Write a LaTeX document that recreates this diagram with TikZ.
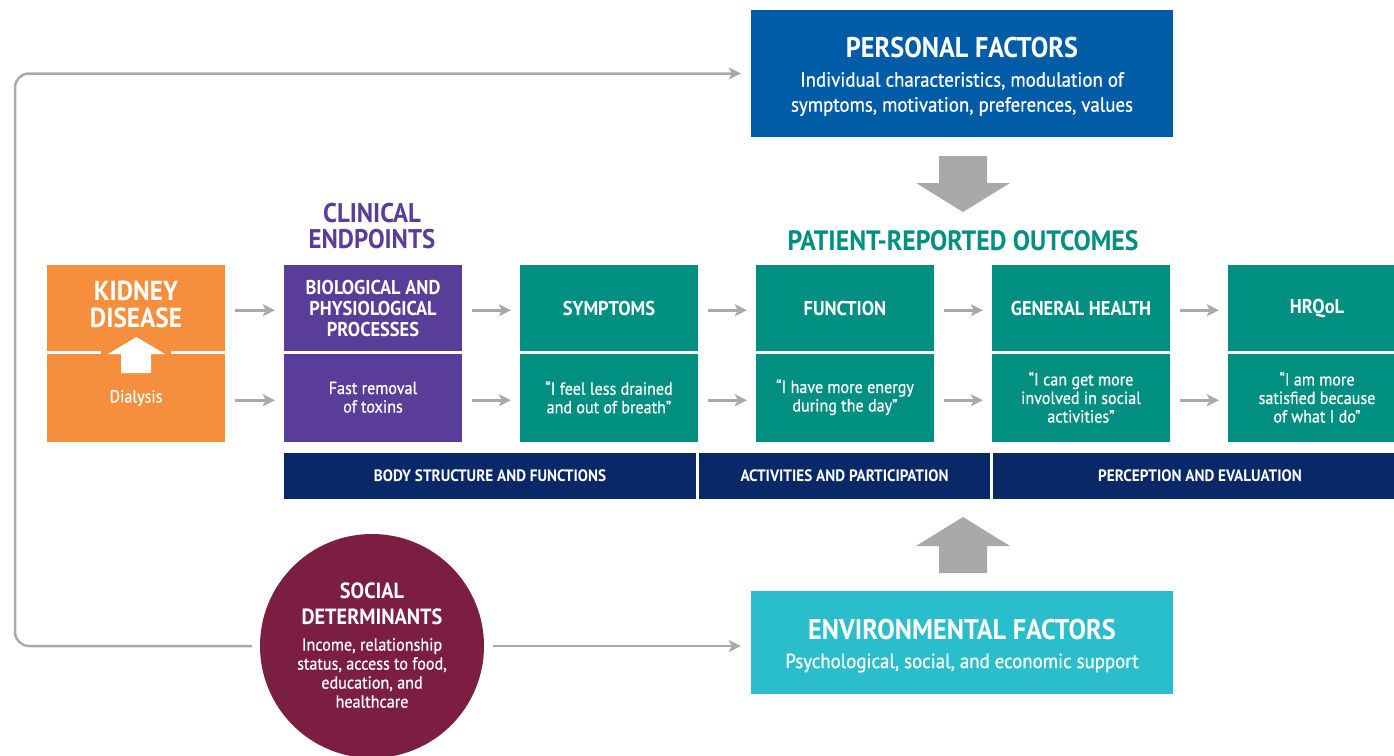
\documentclass[tikz,border=0pt]{standalone}
\usepackage{fontspec}
\setmainfont{PT Sans}[FakeStretch=0.92]
\newfontfamily\bodyfont{PT Sans}[FakeStretch=0.92, FakeBold=0.8]
\usetikzlibrary{arrows.meta}
\definecolor{korange}{RGB}{245,143,62}
\definecolor{kpurple}{RGB}{90,61,152}
\definecolor{kteal}{RGB}{0,143,128}
\definecolor{kblue}{RGB}{0,92,166}
\definecolor{knavy}{RGB}{8,40,104}
\definecolor{kcyan}{RGB}{42,189,204}
\definecolor{kmaroon}{RGB}{124,29,66}
\definecolor{kgray}{RGB}{167,169,171}
\newcommand{\myfs}[2]{\fontsize{#1}{#2}\selectfont}
\begin{document}
\begin{tikzpicture}[x=1pt,y=-1pt,
  halfbox/.style={minimum width=178pt, inner sep=0pt, text=white, align=center},
  topbox/.style={halfbox, minimum height=87.5pt, font=\bfseries\myfs{20}{21}},
  botbox/.style={halfbox, minimum height=89.5pt, font=\bodyfont\myfs{17.5}{18.5}},
  bar/.style={fill=knavy, minimum height=46pt, inner sep=0pt, text=white, font=\bfseries\myfs{16.5}{18}},
  conn/.style={draw=kgray, line width=2.5pt, -{Stealth[length=12pt,width=12pt,inset=3pt]}},
  flowarr/.style={conn, shorten <=10pt, shorten >=9pt},
  divider/.style={draw=white, line width=3pt},
  bigbox/.style={minimum width=422pt, inner sep=0pt},
  wtitle/.style={text=white, inner sep=0pt, align=center, font=\bfseries\myfs{28.5}{32}},
  wsub/.style={text=white, inner sep=0pt, align=center, font=\bodyfont\myfs{20.5}{25}},
  blockarr/.style={fill=kgray, draw=none}
]
\useasboundingbox (0,0) rectangle (1394,755);

% top personal factors
\node[bigbox, fill=kblue, minimum height=127pt] (pers) at (962,73.5) {};
\node[wtitle] (perst) at (962,48) {PERSONAL FACTORS};
\node[wsub] (perss) at (962,94) {Individual characteristics, modulation of\\symptoms, motivation, preferences, values};

% environmental factors
\node[bigbox, fill=kcyan, minimum height=103pt] (env) at (962,642.5) {};
\node[wtitle] (envt) at (962,630) {ENVIRONMENTAL FACTORS};
\node[wsub] (envs) at (962,663) {Psychological, social, and economic support};

% headings
\node[text=kpurple, align=center, font=\bfseries\myfs{27}{26}] (clin) at (372,226) {CLINICAL\\ENDPOINTS};
\node[text=kteal, font=\bfseries\myfs{28}{30}] (pro) at (963,241) {PATIENT-REPORTED OUTCOMES};

% kidney disease
\node[halfbox, fill=korange, minimum height=87.5pt] (kidA) at (136,308.75) {};
\node[halfbox, fill=korange, minimum height=89.5pt] (kidB) at (136,397.25) {};
\node[text=white, align=center, font=\bfseries\myfs{27.5}{27}] (kidt) at (136,304.5) {KIDNEY\\DISEASE};
\node[text=white, font=\bodyfont\myfs{17.5}{19}] (dial) at (136,398) {Dialysis};
\draw[divider] (kidA.south west) -- ++(54,0);
\draw[divider] (kidA.south east) -- ++(-54,0);
\fill[white] (136.5,337) -- (165,354) -- (151,354) -- (151,373) -- (121,373) -- (121,354) -- (108,354) -- cycle;

% clinical endpoint box
\node[topbox, fill=kpurple] (bioA) at (373,308.75) {BIOLOGICAL AND\\PHYSIOLOGICAL\\PROCESSES};
\node[botbox, fill=kpurple] (bioB) at (373,397.25) {Fast removal\\of toxins};

% PRO boxes
\node[topbox, fill=kteal] (symA) at (609,308.75) {SYMPTOMS};
\node[botbox, fill=kteal] (symB) at (609,397.25) {“I feel less drained\\and out of breath”};
\node[topbox, fill=kteal] (funA) at (845,308.75) {FUNCTION};
\node[botbox, fill=kteal] (funB) at (845,397.25) {“I have more energy\\during the day”};
\node[topbox, fill=kteal] (genA) at (1081,308.75) {GENERAL HEALTH};
\node[botbox, fill=kteal] (genB) at (1081,397.25) {“I can get more\\involved in social\\activities”};
\node[topbox, fill=kteal] (hrqA) at (1317,308.75) {HRQoL};
\node[botbox, fill=kteal] (hrqB) at (1317,397.25) {“I am more\\satisfied because\\of what I do”};

\foreach \n in {bio,sym,fun,gen,hrq}{
  \draw[divider] (\n A.south west) -- (\n A.south east);
}

% flow arrows
\foreach \a/\b in {kid/bio,bio/sym,sym/fun,fun/gen,gen/hrq}{
  \draw[flowarr] ([yshift=-1.5pt]\a A.east) -- ([yshift=-1.5pt]\b A.west);
  \draw[flowarr] ([yshift=-3pt]\a B.east) -- ([yshift=-3pt]\b B.west);
}

% bottom bars
\node[bar, minimum width=412pt] (bar1) at (490,476) {BODY STRUCTURE AND FUNCTIONS};
\node[bar, minimum width=291pt] (bar2) at (844.5,476) {ACTIVITIES AND PARTICIPATION};
\node[bar, minimum width=414pt] (bar3) at (1200,476) {PERCEPTION AND EVALUATION};

% big gray arrows
\fill[blockarr] (939,156) -- (987,156) -- (987,183) -- (1010,183) -- (963,212) -- (916,183) -- (939,183) -- cycle;
\fill[blockarr] (939,573) -- (987,573) -- (987,546) -- (1010,546) -- (963,517) -- (916,546) -- (939,546) -- cycle;

% social determinants
\node[circle, fill=kmaroon, minimum size=224pt, inner sep=0pt] (soc) at (372,646) {};
\node[text=white, align=center, inner sep=0pt, font=\bfseries\myfs{22}{26}] (soct) at (372,604) {SOCIAL\\DETERMINANTS};
\node[text=white, align=center, inner sep=0pt, font=\bodyfont\myfs{17.5}{19}] (socs) at (372,673) {Income, relationship\\status, access to food,\\education, and\\healthcare};

% connectors from social determinants
\coordinate (lb) at (15,646);
\coordinate (lt) at (15,73.5);
\draw[conn, rounded corners=14pt, shorten <=8pt, shorten >=10pt] (soc.west) -- (lb) -- (lt) -- (pers.west);
\draw[conn, shorten <=9pt, shorten >=10pt] (soc.east) -- (soc.east -| env.west);
\end{tikzpicture}
\end{document}
